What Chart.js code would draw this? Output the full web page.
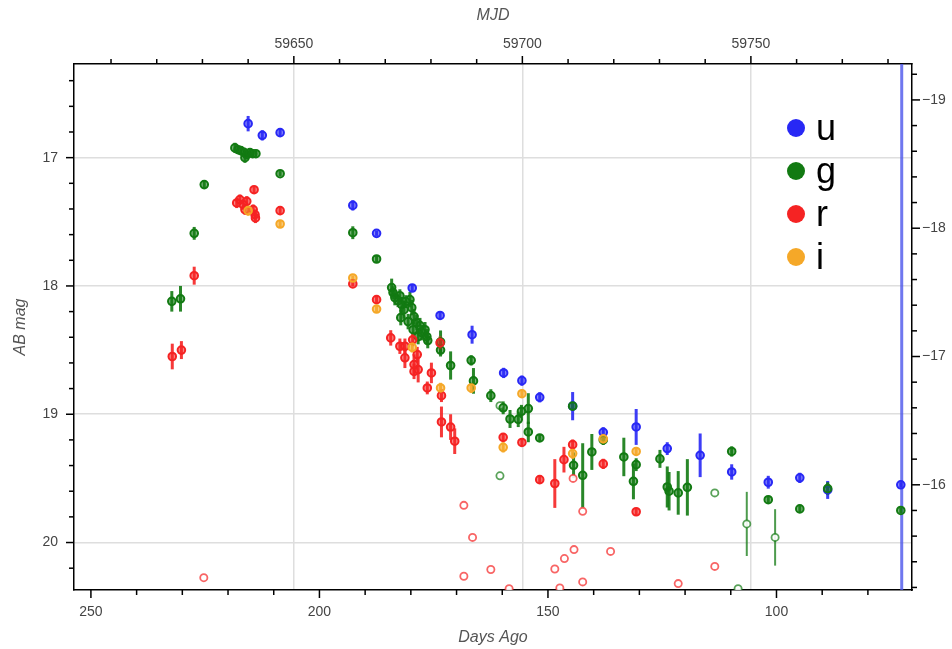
<!DOCTYPE html>
<html>
<head>
<meta charset="utf-8">
<title>Light curve</title>
<script src="https://cdn.jsdelivr.net/npm/chart.js@4.4.1/dist/chart.umd.min.js"></script>
<style>
  html, body { margin: 0; padding: 0; background: #fff; }
  #lc { display: block; }
</style>
</head>
<body>
<canvas id="lc" width="952" height="649"></canvas>
<script>
// axis ranges
const DAYS_MIN = 70.35;
const DAYS_MAX = 253.7;
const MJD_OFFSET = 59855.6;   // MJD = MJD_OFFSET - daysAgo
const MAG_MIN = 16.27;
const MAG_MAX = 20.37;
const DIST_MOD = 35.55;       // absolute = apparent - DIST_MOD
const markerDay = 72.6;       // vertical line

// u band
const uDays = [215.6, 212.5, 208.6, 192.7, 187.5, 179.7, 173.6, 166.6, 159.7, 155.7, 151.8, 144.6, 137.9, 130.7, 123.9, 116.7, 109.8, 101.8, 94.9, 88.8, 72.8];
const uMag  = [16.735, 16.826, 16.805, 17.372, 17.59, 18.016, 18.23, 18.38, 18.678, 18.738, 18.868, 18.937, 19.141, 19.099, 19.268, 19.32, 19.45, 19.53, 19.496, 19.59, 19.55];
const uErr  = [0.06, 0.04, 0.03, 0.04, 0.02, 0.03, 0.03, 0.07, 0.04, 0.04, 0.04, 0.11, 0.04, 0.14, 0.05, 0.17, 0.06, 0.05, 0.04, 0.07, 0.02];

// g band
const gDays = [232.3, 230.4, 227.4, 225.2, 218.5, 217.8, 217.2, 216.5, 216.3, 215.9, 215.2, 214.6, 213.9, 208.6, 192.7, 187.5,
  184.2, 183.9, 183.5, 182.8, 182.4, 182.0, 181.5, 182.2, 181.1, 180.2, 179.8, 180.6, 179.3, 178.7, 179.5, 178.0, 177.6, 176.9, 176.5, 178.4, 176.3,
  173.5, 173.5, 171.3, 166.8, 166.3, 162.5, 159.8, 158.3, 156.5, 155.8, 154.3, 154.3, 151.8, 144.6, 144.4, 142.4, 140.4, 137.9, 133.4, 130.7, 131.3,
  125.5, 123.9, 123.5, 121.5, 119.5, 109.8, 101.8, 94.9, 88.8, 72.8];
const gMag  = [18.12, 18.10, 17.59, 17.21, 16.924, 16.938, 16.945, 16.959, 17.0, 16.977, 16.961, 16.969, 16.969, 17.125, 17.585, 17.79,
  18.013, 18.052, 18.091, 18.115, 18.076, 18.146, 18.185, 18.247, 18.122, 18.107, 18.169, 18.278, 18.239, 18.286, 18.341, 18.309, 18.364, 18.341, 18.395, 18.395, 18.426,
  18.437, 18.50, 18.62, 18.58, 18.74, 18.855, 18.95, 19.037, 19.04, 18.977, 18.956, 19.138, 19.185, 18.937, 19.398, 19.476, 19.294, 19.2, 19.333, 19.393, 19.523,
  19.348, 19.567, 19.60, 19.613, 19.57, 19.29, 19.666, 19.738, 19.58, 19.75];
const gErr  = [0.08, 0.10, 0.05, 0.03, 0.04, 0.03, 0.03, 0.03, 0.04, 0.03, 0.03, 0.03, 0.03, 0.02, 0.05, 0.03,
  0.07, 0.05, 0.06, 0.05, 0.05, 0.06, 0.07, 0.06, 0.05, 0.06, 0.06, 0.06, 0.06, 0.06, 0.06, 0.06, 0.06, 0.06, 0.06, 0.06, 0.06,
  0.09, 0.05, 0.11, 0.04, 0.10, 0.05, 0.05, 0.07, 0.06, 0.05, 0.12, 0.08, 0.03, 0.03, 0.10, 0.25, 0.14, 0.04, 0.15, 0.05, 0.14,
  0.07, 0.16, 0.15, 0.17, 0.22, 0.04, 0.03, 0.03, 0.05, 0.02];

// r band
const rDays = [232.2, 230.2, 227.4, 214.3, 218.1, 217.4, 216.7, 215.9, 216.3, 214.5, 214.1, 214.0, 208.6, 192.7, 187.5, 184.4, 182.4, 181.3, 181.3, 179.6,
  178.6, 179.3, 178.4, 179.3, 175.5, 173.6, 176.4, 173.3, 173.3, 171.3, 170.4, 159.8, 155.7, 151.8, 148.5, 146.5, 144.6, 137.9, 130.7];
const rMag  = [18.55, 18.50, 17.92, 17.25, 17.353, 17.327, 17.366, 17.34, 17.405, 17.405, 17.444, 17.47, 17.413, 17.984, 18.107, 18.405, 18.47, 18.47, 18.56, 18.42,
  18.535, 18.613, 18.652, 18.666, 18.678, 18.444, 18.795, 18.855, 19.06, 19.10, 19.21, 19.18, 19.22, 19.51, 19.54, 19.354, 19.237, 19.387, 19.76];
const rErr  = [0.10, 0.07, 0.07, 0.03, 0.04, 0.04, 0.04, 0.04, 0.04, 0.04, 0.04, 0.04, 0.03, 0.02, 0.03, 0.06, 0.06, 0.06, 0.08, 0.05,
  0.06, 0.08, 0.10, 0.06, 0.08, 0.05, 0.05, 0.05, 0.12, 0.10, 0.10, 0.03, 0.03, 0.03, 0.19, 0.10, 0.04, 0.04, 0.03];

// i band
const iDays = [215.6, 208.6, 192.7, 187.5, 179.7, 173.5, 166.8, 159.8, 155.7, 144.6, 137.9, 130.7];
const iMag  = [17.413, 17.517, 17.938, 18.18, 18.479, 18.795, 18.795, 19.258, 18.84, 19.307, 19.192, 19.29];
const iErr  = [0.04, 0.03, 0.02, 0.03, 0.04, 0.04, 0.04, 0.04, 0.03, 0.04, 0.04, 0.03];

// open symbols
const rOpenDays = [225.3, 168.4, 166.5, 168.4, 162.5, 158.5, 148.5, 146.4, 144.3, 147.4, 144.5, 142.4, 142.4, 136.3, 121.5, 113.5];
const rOpenMag  = [20.274, 19.71, 19.96, 20.263, 20.21, 20.36, 20.206, 20.125, 20.055, 20.354, 19.50, 19.757, 20.307, 20.069, 20.32, 20.186];
const gOpenDays = [160.5, 160.5, 113.5, 106.5, 100.3, 108.4];
const gOpenMag  = [18.933, 19.48, 19.613, 19.855, 19.96, 20.36];
const gOpenErr  = [0, 0, 0, 0.25, 0.22, 0];

const COLORS = {
  u: [40, 40, 245],
  g: [18, 122, 18],
  r: [245, 35, 35],
  i: [245, 168, 40]
};
const rgba = (c, a) => `rgba(${c[0]},${c[1]},${c[2]},${a})`;
const toPoints = (xs, ys) => xs.map((x, k) => ({ x: x, y: ys[k] }));

function filled(label, days, mags, errs, col, order) {
  return {
    label: label,
    data: toPoints(days, mags),
    errors: errs,
    barColor: rgba(col, 0.9),
    barWidth: 3,
    inLegend: true,
    legendColor: rgba(col, 1),
    pointRadius: 3.8,
    pointBorderWidth: 2,
    pointBorderColor: rgba(col, 1),
    pointBackgroundColor: rgba(col, 0.55),
    order: order
  };
}
function hollow(label, days, mags, errs, col, order) {
  return {
    label: label,
    data: toPoints(days, mags),
    errors: errs,
    barColor: rgba(col, 0.75),
    barWidth: 2,
    inLegend: false,
    pointRadius: 3.6,
    pointBorderWidth: 1.8,
    pointBorderColor: rgba(col, 0.7),
    pointBackgroundColor: 'rgba(255,255,255,0.9)',
    order: order
  };
}

function stepTicks(min, max, step) {
  const out = [];
  for (let k = Math.ceil(min / step - 1e-9); k * step <= max + 1e-9; k++) {
    out.push({ value: +(k * step).toFixed(6) });
  }
  return out;
}
const isInt = v => Math.abs(v - Math.round(v)) < 1e-6;
const is50 = v => isInt(v / 50);

// vertical marker line
const markerLine = {
  id: 'markerLine',
  beforeDatasetsDraw(chart) {
    const { ctx, chartArea: a } = chart;
    const px = chart.scales.x.getPixelForValue(markerDay);
    ctx.save();
    ctx.strokeStyle = 'rgba(75,85,235,0.8)';
    ctx.lineWidth = 3;
    ctx.beginPath();
    ctx.moveTo(px, a.top);
    ctx.lineTo(px, a.bottom);
    ctx.stroke();
    ctx.restore();
  }
};

// vertical error bars
const errorBars = {
  id: 'errorBars',
  beforeDatasetsDraw(chart) {
    const { ctx, chartArea: a } = chart;
    const y = chart.scales.y;
    ctx.save();
    ctx.beginPath();
    ctx.rect(a.left, a.top, a.right - a.left, a.bottom - a.top);
    ctx.clip();
    chart.data.datasets.forEach((ds, i) => {
      if (!ds.errors) return;
      const meta = chart.getDatasetMeta(i);
      ctx.strokeStyle = ds.barColor;
      ctx.lineWidth = ds.barWidth;
      meta.data.forEach((pt, j) => {
        const e = ds.errors[j];
        if (!e) return;
        const m = ds.data[j].y;
        ctx.beginPath();
        ctx.moveTo(pt.x, y.getPixelForValue(m - e));
        ctx.lineTo(pt.x, y.getPixelForValue(m + e));
        ctx.stroke();
      });
    });
    ctx.restore();
  }
};

// major / minor tick marks on all four sides
const axisTicks = {
  id: 'axisTicks',
  afterDraw(chart) {
    const { ctx, chartArea: a } = chart;
    const s = chart.scales;
    ctx.save();
    ctx.strokeStyle = '#000';
    ctx.lineWidth = 1.5;
    const seg = (x1, y1, x2, y2) => { ctx.beginPath(); ctx.moveTo(x1, y1); ctx.lineTo(x2, y2); ctx.stroke(); };
    s.x.ticks.forEach(t => {
      const p = s.x.getPixelForValue(t.value);
      seg(p, a.bottom, p, a.bottom + (is50(t.value) ? 8 : 5));
    });
    s.xTop.ticks.forEach(t => {
      const p = s.xTop.getPixelForValue(t.value);
      seg(p, a.top, p, a.top - (is50(t.value) ? 8 : 5));
    });
    s.y.ticks.forEach(t => {
      const p = s.y.getPixelForValue(t.value);
      seg(a.left, p, a.left - (isInt(t.value) ? 8 : 5), p);
    });
    s.yAbs.ticks.forEach(t => {
      const p = s.yAbs.getPixelForValue(t.value);
      seg(a.right, p, a.right + (isInt(t.value) ? 8 : 5), p);
    });
    ctx.restore();
  }
};

// legend inside the plot
const bandLegend = {
  id: 'bandLegend',
  afterDraw(chart) {
    const { ctx } = chart;
    const items = chart.data.datasets.filter(ds => ds.inLegend);
    ctx.save();
    ctx.font = '36px "Liberation Sans", Arial, sans-serif';
    ctx.textBaseline = 'alphabetic';
    ctx.textAlign = 'left';
    items.forEach((ds, k) => {
      const cy = 128 + k * 43;
      ctx.fillStyle = ds.legendColor;
      ctx.beginPath();
      ctx.arc(796, cy, 9, 0, Math.PI * 2);
      ctx.fill();
      ctx.fillStyle = '#000';
      ctx.fillText(ds.label, 816, cy + 12);
    });
    ctx.restore();
  }
};

Chart.defaults.font.family = '"Liberation Sans", Arial, Helvetica, sans-serif';
Chart.defaults.font.size = 14;
Chart.defaults.color = '#444';

const gridColor = '#dedede';
const titleFont = { size: 16, style: 'italic' };

new Chart(document.getElementById('lc'), {
  type: 'scatter',
  data: {
    datasets: [
      filled('u', uDays, uMag, uErr, COLORS.u, 4),
      filled('g', gDays, gMag, gErr, COLORS.g, 3),
      filled('r', rDays, rMag, rErr, COLORS.r, 2),
      filled('i', iDays, iMag, iErr, COLORS.i, 1),
      hollow('r limit', rOpenDays, rOpenMag, null, COLORS.r, 6),
      hollow('g limit', gOpenDays, gOpenMag, gOpenErr, COLORS.g, 5)
    ]
  },
  options: {
    responsive: false,
    animation: false,
    layout: { padding: 0 },
    plugins: {
      legend: { display: false },
      tooltip: { enabled: false }
    },
    scales: {
      x: {
        type: 'linear',
        position: 'bottom',
        reverse: true,
        min: DAYS_MIN,
        max: DAYS_MAX,
        afterBuildTicks: s => { s.ticks = stepTicks(s.min, s.max, 10); },
        afterFit: s => { s.height = 59; },
        grid: { display: false, drawTicks: false },
        border: { display: true, color: '#000', width: 1.5 },
        ticks: {
          padding: 14, autoSkip: false, maxRotation: 0,
          callback: v => is50(v) ? String(Math.round(v)) : ''
        },
        title: { display: true, text: 'Days Ago', font: titleFont, color: '#555', padding: { top: 0, bottom: 2 } }
      },
      xTop: {
        type: 'linear',
        position: 'top',
        min: MJD_OFFSET - DAYS_MAX,
        max: MJD_OFFSET - DAYS_MIN,
        afterBuildTicks: s => { s.ticks = stepTicks(s.min, s.max, 10); },
        afterFit: s => { s.height = 64; },
        grid: {
          drawTicks: false,
          lineWidth: 1.5,
          color: c => (c.tick && is50(c.tick.value)) ? gridColor : 'rgba(0,0,0,0)'
        },
        border: { display: true, color: '#000', width: 1.5 },
        ticks: {
          padding: 11, autoSkip: false, maxRotation: 0,
          callback: v => is50(v) ? String(Math.round(v)) : ''
        },
        title: { display: true, text: 'MJD', font: titleFont, color: '#555', padding: { top: 6, bottom: 0 } }
      },
      y: {
        type: 'linear',
        position: 'left',
        reverse: true,
        min: MAG_MIN,
        max: MAG_MAX,
        afterBuildTicks: s => { s.ticks = stepTicks(s.min, s.max, 0.2); },
        afterFit: s => { s.width = 74; },
        grid: {
          drawTicks: false,
          lineWidth: 1.5,
          color: c => (c.tick && isInt(c.tick.value)) ? gridColor : 'rgba(0,0,0,0)'
        },
        border: { display: true, color: '#000', width: 1.5 },
        ticks: {
          padding: 16, autoSkip: false,
          callback: v => isInt(v) ? String(Math.round(v)) : ''
        },
        title: { display: true, text: 'AB mag', font: titleFont, color: '#555', padding: { top: 11, bottom: 0 } }
      },
      yAbs: {
        type: 'linear',
        position: 'right',
        reverse: true,
        min: MAG_MIN - DIST_MOD,
        max: MAG_MAX - DIST_MOD,
        afterBuildTicks: s => { s.ticks = stepTicks(s.min, s.max, 0.2); },
        afterFit: s => { s.width = 40; },
        grid: { display: false, drawTicks: false },
        border: { display: true, color: '#000', width: 1.5 },
        ticks: {
          padding: 10, autoSkip: false,
          callback: v => isInt(v) ? String(Math.round(v)).replace('-', '\u2212') : ''
        }
      }
    }
  },
  plugins: [markerLine, errorBars, axisTicks, bandLegend]
});
</script>
</body>
</html>
